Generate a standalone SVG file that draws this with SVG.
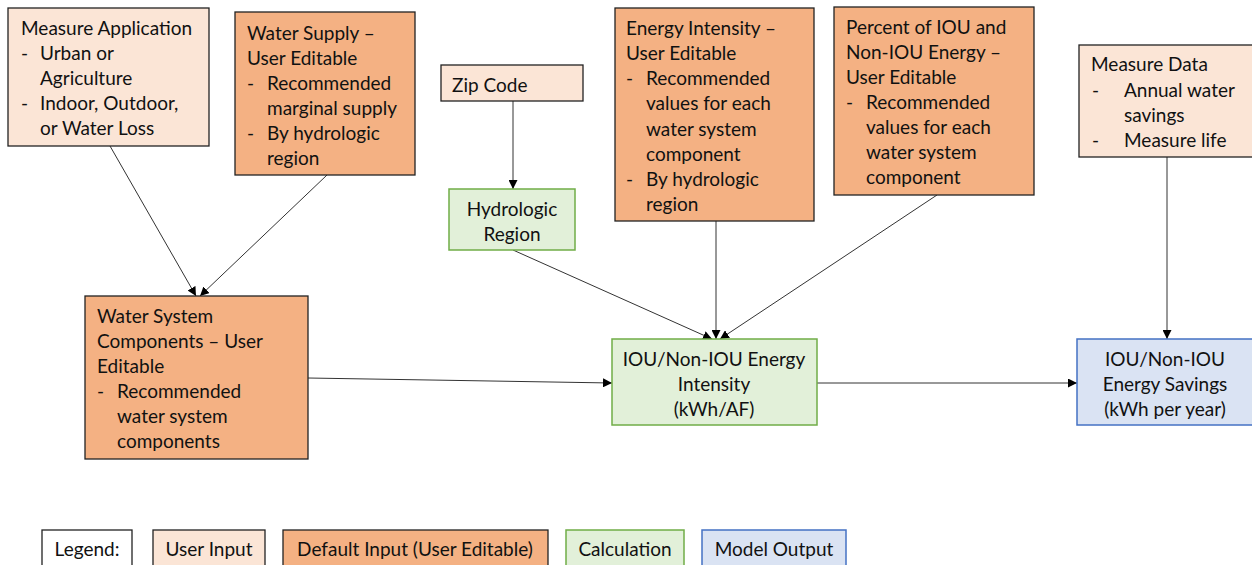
<svg xmlns="http://www.w3.org/2000/svg" width="1252" height="565" viewBox="0 0 1252 565">
<style>
text{font-family:Lato,"Open Sans","Liberation Sans",sans-serif;font-size:19px;fill:#111;dominant-baseline:central}
.c{text-anchor:middle}
.ui{fill:#FBE5D6;stroke:#222;stroke-width:1.3}
.di{fill:#F4B183;stroke:#222;stroke-width:1.3}
.ca{fill:#E2F0D9;stroke:#70AD47;stroke-width:1.5}
.mo{fill:#DAE3F3;stroke:#4472C4;stroke-width:1.5}
.lg{fill:#fff;stroke:#222;stroke-width:1.3}
.ln{stroke:#333;stroke-width:1;fill:none;marker-end:url(#ah)}
.leg{font-size:19px}
</style>
<defs>
<marker id="ah" viewBox="0 0 10 10" refX="10" refY="5" markerWidth="9" markerHeight="9" markerUnits="userSpaceOnUse" orient="auto">
<path d="M0,0 L10,5 L0,10 z" fill="#000"/>
</marker>
</defs>
<rect width="1252" height="565" fill="#fff"/>
<g id="connectors">
<line class="ln" x1="110" y1="146" x2="196" y2="296"/>
<line class="ln" x1="327" y1="175" x2="200" y2="296"/>
<line class="ln" x1="513" y1="101" x2="513" y2="189"/>
<line class="ln" x1="513" y1="250" x2="712" y2="339"/>
<line class="ln" x1="716" y1="221" x2="716" y2="339"/>
<line class="ln" x1="937" y1="195" x2="720" y2="339"/>
<line class="ln" x1="308" y1="378" x2="612" y2="383"/>
<line class="ln" x1="817" y1="383" x2="1077" y2="383"/>
<line class="ln" x1="1167" y1="157" x2="1167" y2="339"/>
</g>
<g id="measure-application">
<rect class="ui" x="8" y="8" width="201" height="138"/>
<text x="21" y="27">Measure Application</text>
<text x="21" y="52">-</text><text x="40" y="52">Urban or</text>
<text x="40" y="77">Agriculture</text>
<text x="21" y="102">-</text><text x="40" y="102">Indoor, Outdoor,</text>
<text x="40" y="127">or Water Loss</text>
</g>
<g id="water-supply">
<rect class="di" x="235" y="12" width="180" height="163"/>
<text x="247" y="32">Water Supply –</text>
<text x="247" y="57">User Editable</text>
<text x="247" y="82">-</text><text x="267" y="82">Recommended</text>
<text x="267" y="107">marginal supply</text>
<text x="247" y="132">-</text><text x="267" y="132">By hydrologic</text>
<text x="267" y="157">region</text>
</g>
<g id="zip-code">
<rect class="ui" x="441" y="65" width="142" height="36"/>
<text x="452" y="84">Zip Code</text>
</g>
<g id="hydrologic-region">
<rect class="ca" x="449" y="189" width="126" height="61"/>
<text class="c" x="512" y="208">Hydrologic</text>
<text class="c" x="512" y="233">Region</text>
</g>
<g id="energy-intensity-input">
<rect class="di" x="615" y="8" width="199" height="213"/>
<text x="626" y="27">Energy Intensity –</text>
<text x="626" y="52">User Editable</text>
<text x="626" y="77">-</text><text x="646" y="77">Recommended</text>
<text x="646" y="102">values for each</text>
<text x="646" y="128">water system</text>
<text x="646" y="153">component</text>
<text x="626" y="178">-</text><text x="646" y="178">By hydrologic</text>
<text x="646" y="203">region</text>
</g>
<g id="percent-iou">
<rect class="di" x="834" y="7" width="200" height="188"/>
<text x="846" y="26">Percent of IOU and</text>
<text x="846" y="51">Non-IOU Energy –</text>
<text x="846" y="76">User Editable</text>
<text x="846" y="101">-</text><text x="866" y="101">Recommended</text>
<text x="866" y="126">values for each</text>
<text x="866" y="151">water system</text>
<text x="866" y="176">component</text>
</g>
<g id="measure-data">
<rect class="ui" x="1079" y="45" width="180" height="112"/>
<text x="1091" y="63">Measure Data</text>
<text x="1092" y="89">-</text><text x="1124" y="89">Annual water</text>
<text x="1124" y="114">savings</text>
<text x="1092" y="139">-</text><text x="1124" y="139">Measure life</text>
</g>
<g id="water-system-components">
<rect class="di" x="85" y="296" width="223" height="163"/>
<text x="97" y="315">Water System</text>
<text x="97" y="340">Components – User</text>
<text x="97" y="365">Editable</text>
<text x="97" y="390">-</text><text x="117" y="390">Recommended</text>
<text x="117" y="415">water system</text>
<text x="117" y="440">components</text>
</g>
<g id="energy-intensity-calc">
<rect class="ca" x="612" y="339" width="205" height="86"/>
<text class="c" x="714" y="358">IOU/Non-IOU Energy</text>
<text class="c" x="714" y="383">Intensity</text>
<text class="c" x="714" y="408">(kWh/AF)</text>
</g>
<g id="energy-savings">
<rect class="mo" x="1077" y="339" width="180" height="86"/>
<text class="c" x="1165" y="358">IOU/Non-IOU</text>
<text class="c" x="1165" y="383">Energy Savings</text>
<text class="c" x="1165" y="408">(kWh per year)</text>
</g>
<g id="legend">
<rect class="lg" x="42" y="530" width="90" height="40"/>
<text class="c leg" x="87" y="548">Legend:</text>
<rect class="ui" x="153" y="530" width="112" height="40"/>
<text class="c leg" x="209" y="548">User Input</text>
<rect class="di" x="283" y="530" width="265" height="40"/>
<text class="c leg" x="415" y="548">Default Input (User Editable)</text>
<rect class="ca" x="566" y="530" width="118" height="40"/>
<text class="c leg" x="625" y="548">Calculation</text>
<rect class="mo" x="702" y="530" width="144" height="40"/>
<text class="c leg" x="774" y="548">Model Output</text>
</g>
</svg>
